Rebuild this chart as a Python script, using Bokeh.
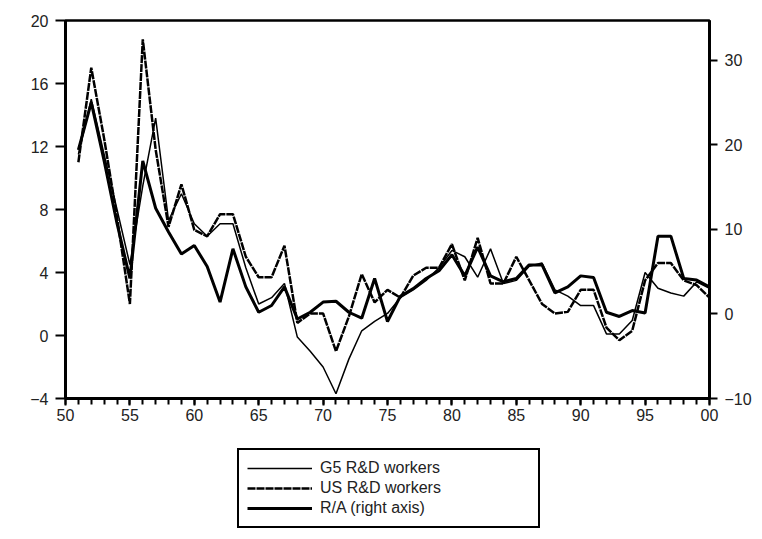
from bokeh.plotting import figure
from bokeh.layouts import column
from bokeh.models import LinearAxis, Range1d, FixedTicker, Legend, LegendItem
from bokeh.embed import file_html
from bokeh.resources import INLINE

years = list(range(1951, 2001))

# G5 R&D workers (left axis)
g5 = [11.5, 15.0, 11.5, 8.0, 4.5, 9.5, 13.8, 7.3, 9.0, 7.1,
      6.3, 7.1, 7.1, 4.3, 2.0, 2.4, 3.3, -0.1, -1.0, -2.0,
      -3.7, -1.5, 0.3, 0.9, 1.4, 2.4, 2.9, 3.5, 4.3, 5.4,
      5.0, 3.7, 5.5, 3.3, 3.5, 4.4, 4.6, 2.9, 2.5, 1.9,
      1.9, 0.1, 0.1, 0.95, 4.0, 3.0, 2.7, 2.5, 3.4, 3.0]

# US R&D workers (left axis)
us = [11.0, 17.0, 12.5, 7.5, 2.0, 18.8, 11.8, 6.9, 9.6, 6.7,
      6.3, 7.7, 7.7, 5.0, 3.7, 3.7, 5.7, 0.8, 1.4, 1.4,
      -1.0, 1.2, 3.9, 2.1, 2.9, 2.4, 3.8, 4.3, 4.3, 5.8,
      3.5, 6.2, 3.3, 3.3, 5.0, 3.5, 2.0, 1.4, 1.5, 2.9,
      2.9, 0.5, -0.3, 0.3, 3.5, 4.6, 4.6, 3.5, 3.2, 2.4]

# R/A (right axis)
ra = [19.4, 25.0, 18.1, 10.7, 4.2, 18.1, 12.5, 9.7, 7.1, 8.1,
      5.6, 1.4, 7.7, 3.2, 0.2, 1.0, 3.2, -0.6, 0.2, 1.4,
      1.5, 0.2, -0.5, 4.2, -0.9, 2.1, 3.0, 4.2, 5.1, 7.0,
      4.5, 7.9, 4.5, 3.8, 4.2, 5.8, 5.8, 2.5, 3.2, 4.5,
      4.3, 0.2, -0.3, 0.4, 0.1, 9.2, 9.2, 4.2, 4.0, 3.2]

x_major = [1950, 1955, 1960, 1965, 1970, 1975, 1980, 1985, 1990, 1995, 2000]
x_labels = ["50", "55", "60", "65", "70", "75", "80", "85", "90", "95", "00"]
left_ticks = [-4, 0, 4, 8, 12, 16, 20]
right_ticks = [-10, 0, 10, 20, 30]
series_names = ["G5 R&D workers", "US R&D workers", "R/A (right axis)"]

FONT = "Liberation Sans"

p = figure(width=754, height=430, output_backend="svg", toolbar_location=None,
           x_range=Range1d(1950, 2000), y_range=Range1d(-4, 20),
           min_border_left=65, min_border_right=42, min_border_top=20,
           min_border_bottom=32, x_axis_location=None, y_axis_location=None)
p.grid.visible = False
p.outline_line_color = "black"
p.outline_line_width = 2.5
p.background_fill_color = "white"
p.border_fill_color = "white"

p.extra_y_ranges = {"right": Range1d(-10, 34.7)}

xaxis = LinearAxis(ticker=FixedTicker(ticks=x_major, minor_ticks=years + [1950]),
                   major_label_overrides={t: l for t, l in zip(x_major, x_labels)})
laxis = LinearAxis(ticker=FixedTicker(ticks=left_ticks))
raxis = LinearAxis(y_range_name="right", ticker=FixedTicker(ticks=right_ticks))

for ax in (xaxis, laxis, raxis):
    ax.axis_line_color = "black"
    ax.axis_line_width = 3
    ax.major_tick_line_color = "black"
    ax.major_tick_line_width = 2
    ax.major_tick_in = 0
    ax.minor_tick_in = 0
    ax.major_label_text_font = FONT
    ax.major_label_text_font_size = "16px"
    ax.major_label_text_color = "#222222"

xaxis.major_tick_out = 7
xaxis.minor_tick_out = 6
xaxis.minor_tick_line_color = "black"
xaxis.minor_tick_line_width = 2
xaxis.major_label_standoff = 3
laxis.major_tick_out = 10
laxis.minor_tick_line_color = None
laxis.major_label_standoff = 7
raxis.major_tick_out = 8
raxis.minor_tick_line_color = None
raxis.major_label_standoff = 7

p.add_layout(xaxis, "below")
p.add_layout(laxis, "left")
p.add_layout(raxis, "right")

styles = [dict(line_width=1.5), dict(line_width=2.5, line_dash="8 1"), dict(line_width=3)]

p.line(years, ra, y_range_name="right", line_color="black", **styles[2])
p.line(years, us, line_color="black", **styles[1])
p.line(years, g5, line_color="black", **styles[0])

# legend panel below the chart (frame is aligned with the chart's frame)
q = figure(width=754, height=100, output_backend="svg", toolbar_location=None,
           x_range=Range1d(0, 1), y_range=Range1d(0, 1),
           min_border_left=0, min_border_right=0, min_border_top=0,
           min_border_bottom=0, x_axis_location=None, y_axis_location=None)
q.grid.visible = False
q.outline_line_color = None
q.background_fill_color = "white"
q.border_fill_color = "white"

items = []
for name, st in zip(series_names, styles):
    r = q.line([-5, -4], [-5, -4], line_color="black", **st)
    items.append(LegendItem(label=name, renderers=[r]))

legend = Legend(items=items, location=(172, 2), orientation="vertical",
                border_line_color="black", border_line_width=2.5,
                border_line_alpha=1,
                background_fill_alpha=1, background_fill_color="white",
                glyph_width=65, glyph_height=20, label_height=20,
                label_width=210, label_standoff=8, spacing=0, padding=8,
                margin=0,
                label_text_font=FONT, label_text_font_size="16px",
                label_text_color="#222222")
q.add_layout(legend, "center")

layout = column(p, q, spacing=0)
open("out.html", "w").write(file_html(layout, INLINE))
